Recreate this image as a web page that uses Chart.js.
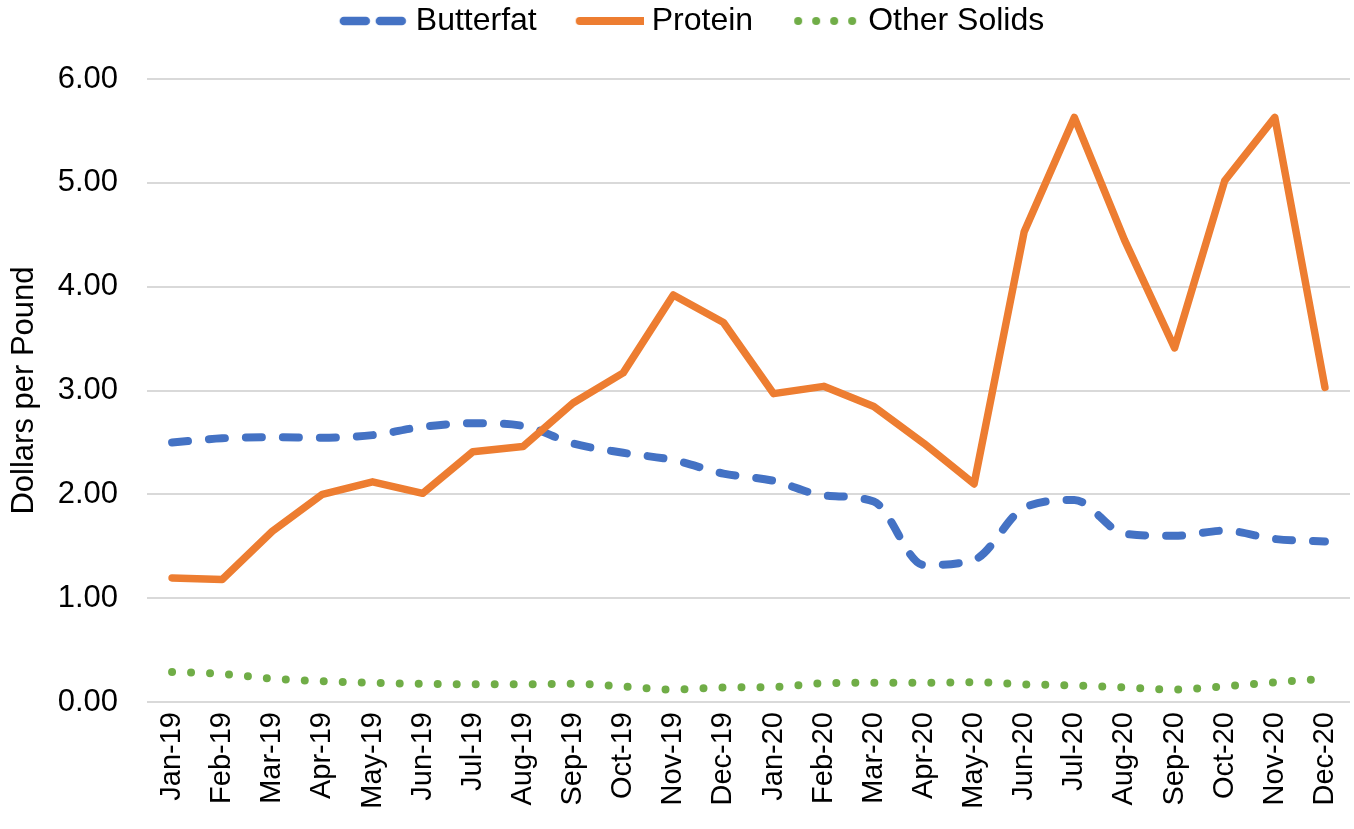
<!DOCTYPE html>
<html>
<head>
<meta charset="utf-8">
<script src="https://cdn.jsdelivr.net/npm/chart.js@4.4.1/dist/chart.umd.min.js"></script>
<style>
html,body{margin:0;padding:0;background:#fff;}
#wrap{width:1354px;height:829px;position:relative;}
</style>
</head>
<body>
<div id="wrap"><canvas id="c"></canvas></div>
<script>
const categories = ["Jan-19","Feb-19","Mar-19","Apr-19","May-19","Jun-19","Jul-19","Aug-19","Sep-19","Oct-19","Nov-19","Dec-19",
  "Jan-20","Feb-20","Mar-20","Apr-20","May-20","Jun-20","Jul-20","Aug-20","Sep-20","Oct-20","Nov-20","Dec-20"];
const butterfat = [2.50,2.54,2.55,2.545,2.57,2.65,2.685,2.66,2.49,2.40,2.33,2.20,2.13,1.99,1.93,1.32,1.37,1.87,1.945,1.62,1.60,1.65,1.57,1.545];
const protein = [1.195,1.18,1.645,2.00,2.12,2.01,2.41,2.46,2.88,3.17,3.92,3.655,2.97,3.04,2.845,2.49,2.10,4.53,5.63,4.45,3.41,5.02,5.63,3.03];
const otherSolids = [0.29,0.27,0.225,0.20,0.185,0.175,0.17,0.17,0.175,0.15,0.12,0.14,0.145,0.18,0.185,0.185,0.19,0.17,0.16,0.14,0.12,0.15,0.19,0.225];
const yTicks = [0,1,2,3,4,5,6];

const BLUE = "#4472C4", ORANGE = "#ED7D31", GREEN = "#70AD47";
const FONT = "'Liberation Sans', Arial, sans-serif";

function sample(kind, color){
  const cv = document.createElement('canvas');
  cv.width = 110; cv.height = 12;
  const g = cv.getContext('2d');
  g.strokeStyle = color; g.fillStyle = color;
  g.lineCap = 'round';
  const x0 = 42;
  if (kind === 'dash'){
    g.lineWidth = 8.5;
    g.beginPath(); g.moveTo(x0+4,6); g.lineTo(x0+26,6); g.stroke();
    g.beginPath(); g.moveTo(x0+40,6); g.lineTo(x0+62,6); g.stroke();
  } else if (kind === 'solid'){
    g.lineWidth = 8;
    g.beginPath(); g.moveTo(x0+4,6); g.lineTo(x0+70,6); g.stroke();
  } else {
    for (let i=0;i<4;i++){ g.beginPath(); g.arc(x0+6+i*18,6,4,0,Math.PI*2); g.fill(); }
  }
  return cv;
}

const legendHeight = {
  id: 'legendHeight',
  beforeLayout(chart){
    const lg = chart.legend;
    if (lg && !lg._wrappedFit){
      const f = lg.fit.bind(lg);
      lg.fit = function(){ f(); this.height = 79; };
      lg._wrappedFit = true;
    }
  }
};

new Chart(document.getElementById('c'), {
  type: 'line',
  data: {
    labels: categories,
    datasets: [
      { label: 'Butterfat', data: butterfat, borderColor: BLUE, backgroundColor: BLUE, borderWidth: 8,
        borderDash: [16, 21], borderCapStyle: 'round', borderJoinStyle: 'round', cubicInterpolationMode: 'monotone', pointRadius: 0, order: 1 },
      { label: 'Protein', data: protein, borderColor: ORANGE, backgroundColor: ORANGE, borderWidth: 7.5,
        borderCapStyle: 'round', borderJoinStyle: 'round', tension: 0, pointRadius: 0, order: 0 },
      { label: 'Other Solids', data: otherSolids, borderColor: GREEN, backgroundColor: GREEN, borderWidth: 8,
        borderDash: [0, 19], borderCapStyle: 'round', cubicInterpolationMode: 'monotone', pointRadius: 0, order: 2 }
    ]
  },
  plugins: [legendHeight],
  options: {
    responsive: true,
    maintainAspectRatio: false,
    animation: false,
    layout: { padding: { left: 0, right: 4, top: 0, bottom: 0 } },
    plugins: {
      tooltip: { enabled: false },
      legend: {
        position: 'top',
        labels: {
          font: { family: FONT, size: 32 },
          color: '#000',
          usePointStyle: true,
          pointStyleWidth: 94,
          boxHeight: 12,
          padding: 5,
          generateLabels: (chart) => {
            const kinds = ['dash','solid','dot'];
            return chart.data.datasets.map((ds, i) => ({
              text: ds.label, datasetIndex: i, hidden: false,
              pointStyle: sample(kinds[i], ds.borderColor),
              fillStyle: ds.borderColor, strokeStyle: ds.borderColor, lineWidth: 0, fontColor: '#000'
            }));
          }
        }
      }
    },
    scales: {
      x: {
        type: 'category',
        offset: true,
        grid: { display: false, drawTicks: false, tickLength: 0 },
        border: { display: false },
        ticks: { font: { family: FONT, size: 29 }, color: '#000', maxRotation: 90, minRotation: 90, autoSkip: false, padding: 10 },
        afterFit: (s) => { s.height = 127; s.paddingLeft = 0; s.paddingRight = 0; }
      },
      y: {
        min: 0, max: 6,
        afterBuildTicks: (s) => { s.ticks = yTicks.map(v => ({ value: v })); },
        grid: { color: '#d9d9d9', lineWidth: 2, drawTicks: false, tickLength: 0 },
        border: { display: false },
        ticks: { font: { family: FONT, size: 31 }, color: '#000', padding: 29, callback: (v) => Number(v).toFixed(2) },
        title: { display: true, text: 'Dollars per Pound', font: { family: FONT, size: 31 }, color: '#000', padding: { top: 6, bottom: 0 } },
        afterFit: (s) => { s.width = 147; }
      }
    }
  }
});
</script>
</body>
</html>
